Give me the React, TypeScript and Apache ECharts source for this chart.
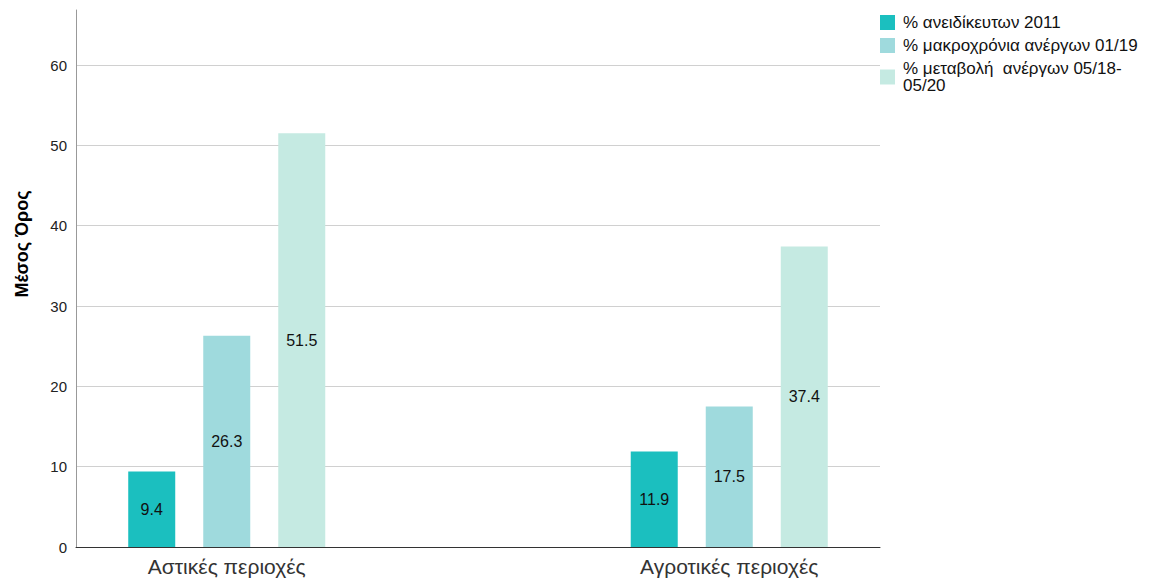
import React, { useEffect, useRef } from "react";
import * as echarts from "echarts";

const categories = ["Αστικές περιοχές", "Αγροτικές περιοχές"];
const seriesNames = [
  "% ανειδίκευτων 2011",
  "% μακροχρόνια ανέργων 01/19",
  "% μεταβολή  ανέργων 05/18-05/20",
];
const unskilled2011 = [9.4, 11.9];
const longTermUnemployed = [26.3, 17.5];
const unemployedChange = [51.5, 37.4];
const yTicks = [0, 10, 20, 30, 40, 50, 60];
const colors = ["#1bbfbf", "#9fdadd", "#c5eae2"];

// slot layout of the category axis: blank slots pad the two groups
const slotCount = 17;
const slotOf = [3, 13];

function padded(values: number[]) {
  const out: (number | null)[] = new Array(slotCount).fill(null);
  values.forEach((v, i) => (out[slotOf[i]] = v));
  return out;
}

const slotLabels: string[] = (() => {
  const out = new Array(slotCount).fill("");
  categories.forEach((c, i) => (out[slotOf[i]] = c));
  return out;
})();

export default function App() {
  const ref = useRef<HTMLDivElement>(null);
  useEffect(() => {
    if (!ref.current) return;
    const chart = echarts.init(ref.current, undefined, { renderer: "svg" });
    const font = "Liberation Sans, Arial, sans-serif";
    const allSeries = [unskilled2011, longTermUnemployed, unemployedChange];
    chart.setOption({
      animation: false,
      textStyle: { fontFamily: font },
      grid: { left: 76, right: 273, top: 10, bottom: 35, containLabel: false },
      legend: {
        left: 875,
        top: 9,
        orient: "vertical",
        itemWidth: 15,
        itemHeight: 15,
        itemGap: 6,
        icon: "rect",
        data: seriesNames,
        formatter: (n: string) => n.replace("05/18-", "05/18-\n"),
        textStyle: { fontSize: 17, color: "#111", lineHeight: 17, fontFamily: font, padding: [0, 0, 0, 3] },
      },
      xAxis: {
        type: "category",
        data: slotLabels,
        boundaryGap: false,
        axisLine: { lineStyle: { color: "#333", width: 1 } },
        axisTick: { show: false },
        axisLabel: { interval: 0, fontSize: 21, color: "#333", margin: 9, fontFamily: font },
        splitLine: { show: false },
      },
      yAxis: {
        type: "value",
        min: 0,
        max: 66.85,
        interval: 10,
        axisLine: { show: true, lineStyle: { color: "#999" } },
        axisTick: { show: false },
        axisLabel: {
          fontSize: 15,
          color: "#222",
          margin: 9,
          showMaxLabel: false,
          formatter: (v: number) => (yTicks.includes(v) ? String(v) : ""),
        },
        splitLine: { show: true, showMaxLine: false, lineStyle: { color: "#d0d0d0" } },
      },
      graphic: [
        {
          type: "text",
          x: 22,
          y: 244,
          rotation: Math.PI / 2,
          style: {
            text: "Μέσος Όρος",
            font: "bold 18px " + font,
            fill: "#000",
            align: "center",
            verticalAlign: "middle",
          },
        },
      ],
      series: allSeries.map((vals, i) => ({
        name: seriesNames[i],
        type: "bar",
        data: padded(vals),
        barWidth: 47,
        barGap: "59.6%",
        itemStyle: { color: colors[i] },
        label: {
          show: true,
          position: "inside",
          color: "#111",
          fontSize: 16,
          fontFamily: font,
          formatter: (p: any) => (p.value == null ? "" : Number(p.value).toFixed(1)),
        },
      })),
    });
    return () => chart.dispose();
  }, []);
  return <div ref={ref} style={{ width: 1153, height: 582, position: "absolute", left: 0, top: 0 }} />;
}
